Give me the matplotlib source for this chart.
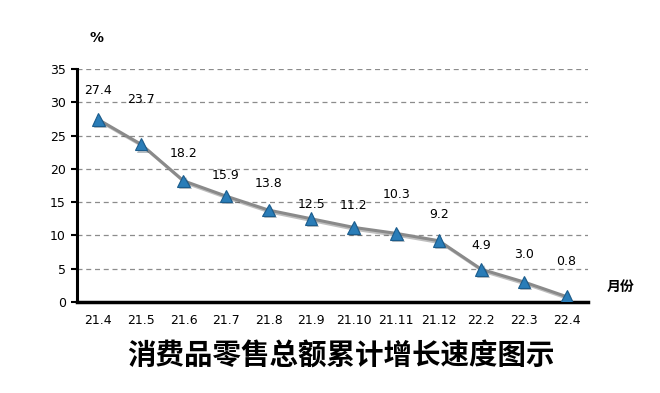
import matplotlib
matplotlib.use("Agg")
import matplotlib.pyplot as plt
import matplotlib.patheffects as pe

months = ["21.4", "21.5", "21.6", "21.7", "21.8", "21.9", "21.10", "21.11", "21.12", "22.2", "22.3", "22.4"]
growth = [27.4, 23.7, 18.2, 15.9, 13.8, 12.5, 11.2, 10.3, 9.2, 4.9, 3.0, 0.8]
yticks = [0, 5, 10, 15, 20, 25, 30, 35]

# label offsets (points above each marker, label centre)
label_off = [21, 32, 19.5, 14.5, 19, 10, 16, 28, 19, 17, 20, 25]

plt.rcParams['font.family'] = ['DejaVu Sans', 'Noto Sans CJK SC']

fig = plt.figure(figsize=(6.6, 3.93), dpi=100)
ax = fig.add_axes([0.1167, 0.2316, 0.774, 0.593])

x = list(range(len(months)))
ax.plot(x, growth, color="#8a8a8a", lw=2.2, zorder=3,
        path_effects=[pe.SimpleLineShadow(offset=(1.5, -1.5), alpha=0.25), pe.Normal()])
ax.plot(x, growth, ls="none", marker="^", ms=9, mfc="#2a7db8", mec="#1b5c8c", mew=0.8, zorder=4,
        path_effects=[pe.SimplePatchShadow(offset=(1.5, -1.5), alpha=0.3), pe.Normal()])

for xi, v, off in zip(x, growth, label_off):
    ax.annotate(f"{v:.1f}", (xi, v), xytext=(0, off), textcoords="offset points",
                ha="center", va="center", fontsize=9, color="black")

ax.set_xlim(-0.5, len(months) - 0.5)
ax.set_ylim(0, 35)
ax.set_yticks(yticks)
ax.set_xticks(x)
ax.set_xticklabels(months)
ax.tick_params(axis='y', length=4, width=1.5, labelsize=9, pad=4)
ax.tick_params(axis='x', length=0, labelsize=9, pad=9)
for t in yticks[1:]:
    ax.axhline(t, color="#8c8c8c", lw=0.9, ls=(0, (4, 3)), zorder=1)
for s in ["top", "right"]:
    ax.spines[s].set_visible(False)
ax.spines["left"].set_linewidth(2.2)
ax.spines["bottom"].set_linewidth(2.5)

fig.text(97 / 660, 1 - 38 / 393, "%", ha="center", va="center", fontsize=10, fontweight="bold")
fig.text(621 / 660, 1 - 287 / 393, "月份", ha="center", va="center", fontsize=10, fontweight="bold",
         family=["Noto Sans CJK SC", "DejaVu Sans"])
fig.text(341 / 660, 1 - 357 / 393, "消费品零售总额累计增长速度图示", ha="center", va="center",
         fontsize=20.5, fontweight="bold", family=["Noto Sans CJK SC", "DejaVu Sans"])

fig.savefig("out.png", dpi=100)
